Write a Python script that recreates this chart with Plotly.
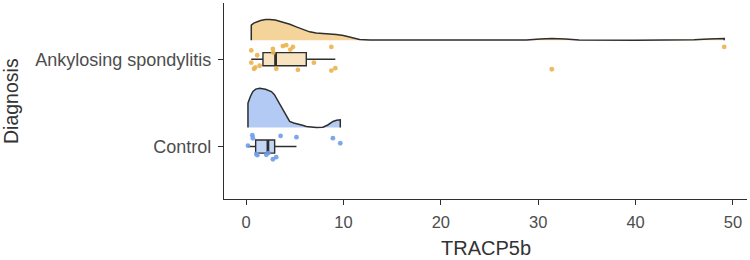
import plotly.graph_objects as go

# ---------------- data ----------------
categories = ["Control", "Ankylosing spondylitis"]
cat_pos = [1, 2]

# individual observations (TRACP5b) and their vertical jitter (in category units)
as_x = [0.54, 1.15, 0.54, 0.82, 0.95, 1.40, 2.76, 2.80, 3.78, 4.13, 4.82, 4.55,
        3.11, 5.33, 6.97, 8.76, 8.76, 9.17, 31.4, 49.1]
as_jit = [0.10, 0.045, -0.04, -0.11, -0.095, -0.075, 0.117, 0.075, 0.15, 0.16,
          0.14, 0.11, -0.11, -0.122, -0.04, 0.14, -0.13, -0.103, -0.115, 0.14]

ct_x = [0.65, 0.70, 0.20, 1.06, 1.16, 2.08, 2.30, 2.76, 3.10, 3.55, 5.18, 8.92, 9.68]
ct_jit = [0.13, 0.095, 0.01, -0.084, -0.098, -0.095, -0.075, -0.145, -0.121,
          0.122, 0.107, 0.096, 0.038]

# boxplot statistics
box_lower = [0.20, 0.54]
box_q1 = [0.99, 1.74]
box_median = [2.25, 3.04]
box_q3 = [2.94, 6.19]
box_upper = [5.18, 9.17]

# half-eye densities (x, height in category units)
as_dx = [0.54, 0.54, 0.8, 1.05, 1.5, 2.0, 2.42, 3.0, 3.79, 4.5, 5.16, 5.8, 6.53, 7.2,
         7.9, 8.6, 9.27, 10.0, 10.64, 11.2, 11.66, 12.7, 16, 26, 28.8, 30.2, 31.4,
         32.8, 34.2, 40, 44, 46, 47.5, 49.1, 49.1]
as_dh = [0.0, 0.172, 0.195, 0.209, 0.225, 0.235, 0.237, 0.231, 0.209, 0.181, 0.152,
         0.121, 0.095, 0.082, 0.077, 0.071, 0.065, 0.053, 0.038, 0.021, 0.008, 0.001,
         0.0, 0.0, 0.003, 0.014, 0.019, 0.012, 0.002, 0.0, 0.0, 0.004, 0.012, 0.019, 0.0]

ct_dx = [0.2, 0.2, 0.45, 0.71, 1.0, 1.4, 2.0, 2.6, 2.9, 3.11, 3.45, 3.79, 4.1, 4.48,
         4.9, 5.33, 5.8, 6.19, 6.7, 7.22, 7.9, 8.4, 8.93, 9.3, 9.68, 9.68]
ct_dh = [0.0, 0.278, 0.355, 0.412, 0.440, 0.450, 0.438, 0.412, 0.378, 0.335, 0.269,
         0.203, 0.132, 0.069, 0.051, 0.042, 0.025, 0.011, 0.003, 0.0, 0.003, 0.029,
         0.069, 0.084, 0.088, 0.0]

x_ticks = [0, 10, 20, 30, 40, 50]

# ---------------- styling ----------------
FONT = "Liberation Sans"
OUTLINE = "#2e2e2e"
as_fill, as_box_fill, as_pt = "rgba(242,206,140,0.88)", "#F7E3C0", "#EBB24F"
ct_fill, ct_box_fill, ct_pt = "rgba(168,196,242,0.88)", "#C4D6F6", "#6E9DEB"
dens_offset = 0.218
box_w = 0.15

L, R, T, B = 224, 3, 3, 61
PW, PH = 750 - L - R, 260 - T - B

fig = go.Figure()

for pos, dx, dh, fill in [(2, as_dx, as_dh, as_fill), (1, ct_dx, ct_dh, ct_fill)]:
    fig.add_trace(go.Scatter(
        x=dx, y=[pos + dens_offset + h for h in dh], mode="lines",
        fill="toself", fillcolor=fill,
        line=dict(color=OUTLINE, width=1.5), hoverinfo="skip", showlegend=False))

for i, (pos, fillc) in enumerate([(1, ct_box_fill), (2, as_box_fill)]):
    fig.add_trace(go.Box(
        y=[pos], orientation="h",
        lowerfence=[box_lower[i]], q1=[box_q1[i]], median=[box_median[i]],
        q3=[box_q3[i]], upperfence=[box_upper[i]],
        width=box_w, whiskerwidth=0, fillcolor=fillc,
        line=dict(color=OUTLINE, width=1.4), boxpoints=False, showlegend=False))
    fig.add_trace(go.Scatter(
        x=[box_median[i], box_median[i]], y=[pos - box_w / 2, pos + box_w / 2],
        mode="lines", line=dict(color=OUTLINE, width=2.8),
        hoverinfo="skip", showlegend=False))

for pos, xs, js, col in [(2, as_x, as_jit, as_pt), (1, ct_x, ct_jit, ct_pt)]:
    fig.add_trace(go.Scatter(
        x=xs, y=[pos + j for j in js], mode="markers",
        marker=dict(color=col, size=4.8, opacity=0.9, line=dict(width=0)),
        showlegend=False))

axis_common = dict(showline=True, linecolor=OUTLINE, linewidth=1.2, ticks="outside",
                   ticklen=5, tickcolor=OUTLINE, tickwidth=1.2, showgrid=False,
                   zeroline=False)

fig.update_layout(
    width=750, height=260,
    margin=dict(l=L, r=R, t=T, b=B),
    plot_bgcolor="white", paper_bgcolor="white",
    xaxis=dict(range=[-2.26, 51.44], tickvals=x_ticks, ticklabelstandoff=3,
               tickfont=dict(family=FONT, size=16.5, color="#4D4D4D"), **axis_common),
    yaxis=dict(range=[0.4, 2.643], tickvals=cat_pos, ticktext=categories,
               ticklabelstandoff=3,
               tickfont=dict(family=FONT, size=18, color="#4D4D4D"), **axis_common),
    annotations=[
        dict(text="TRACP5b", xref="paper", yref="paper", x=0.5,
             y=(PH + T - 248) / PH,
             xanchor="center", yanchor="middle", showarrow=False,
             font=dict(family=FONT, size=20, color="#333333")),
        dict(text="Diagnosis", xref="paper", yref="paper", x=(11 - L) / PW, y=0.5,
             xanchor="center", yanchor="middle", textangle=-90, showarrow=False,
             font=dict(family=FONT, size=19.5, color="#333333")),
    ],
)

fig.write_html("out.html")
